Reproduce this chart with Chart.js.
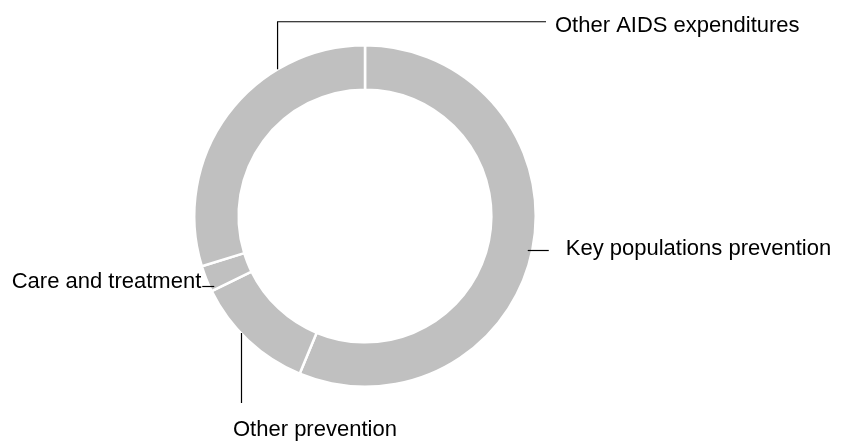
<!DOCTYPE html>
<html>
<head>
<meta charset="utf-8">
<script src="https://cdn.jsdelivr.net/npm/chart.js@4.4.1/dist/chart.umd.min.js"></script>
<style>
  html, body { margin: 0; padding: 0; background: #fff; }
  #wrap { width: 843px; height: 441px; }
</style>
</head>
<body>
<div id="wrap"><canvas id="donut"></canvas></div>
<script>
// Data (shares, %)
const categories = ["Key populations prevention", "Other prevention", "Care and treatment", "Other AIDS expenditures"];
const shares = [56.25, 11.5, 2.5, 29.75];

const FONT = "22px 'Liberation Sans', Arial, sans-serif";

// point on the ring at angle (degrees clockwise from top)
function ringPoint(arc, deg, rad) {
  const a = deg * Math.PI / 180;
  return { x: arc.x + rad * Math.sin(a), y: arc.y - rad * Math.cos(a) };
}

// Leader lines + labels
const leaders = {
  id: "leaders",
  afterDraw(chart) {
    const arc = chart.getDatasetMeta(0).data[0];
    const cx = arc.x, cy = arc.y, r = arc.outerRadius;
    const c = chart.ctx;
    c.save();
    c.strokeStyle = "#000";
    c.lineWidth = 1.2;
    c.fillStyle = "#000";
    c.font = FONT;
    c.textBaseline = "alphabetic";

    // Other AIDS expenditures
    let p = ringPoint(arc, 329.2, r);
    c.beginPath();
    c.moveTo(p.x, p.y);
    c.lineTo(p.x, cy - r - 23.5);
    c.lineTo(cx + 181, cy - r - 23.5);
    c.stroke();
    c.textAlign = "left";
    c.fillText(categories[3], cx + 190, cy - r - 13);

    // Key populations prevention
    c.beginPath();
    c.moveTo(cx + r - 8, cy + 34.5);
    c.lineTo(cx + r + 13, cy + 34.5);
    c.stroke();
    c.fillText(categories[0], cx + r + 30, cy + 39);

    // Care and treatment
    c.beginPath();
    c.moveTo(cx - r + 8, cy + 70.5);
    c.lineTo(cx - r + 20, cy + 70.5);
    c.stroke();
    c.textAlign = "right";
    c.fillText(categories[2], cx - r + 7, cy + 72);

    // Other prevention
    c.beginPath();
    c.moveTo(cx - 123.5, cy + 117);
    c.lineTo(cx - 123.5, cy + 187);
    c.stroke();
    c.textAlign = "left";
    c.fillText(categories[1], cx - 132, cy + 220);

    c.restore();
  }
};

new Chart(document.getElementById("donut"), {
  type: "doughnut",
  data: {
    labels: categories,
    datasets: [{
      data: shares,
      backgroundColor: "#c0c0c0",
      borderColor: "#ffffff",
      borderWidth: 2.5,
      hoverOffset: 0
    }]
  },
  options: {
    responsive: true,
    maintainAspectRatio: false,
    animation: false,
    cutout: "74%",
    layout: { padding: { left: 193, right: 306, top: 44, bottom: 53 } },
    plugins: {
      legend: { display: false },
      tooltip: { enabled: false }
    }
  },
  plugins: [leaders]
});
</script>
</body>
</html>
